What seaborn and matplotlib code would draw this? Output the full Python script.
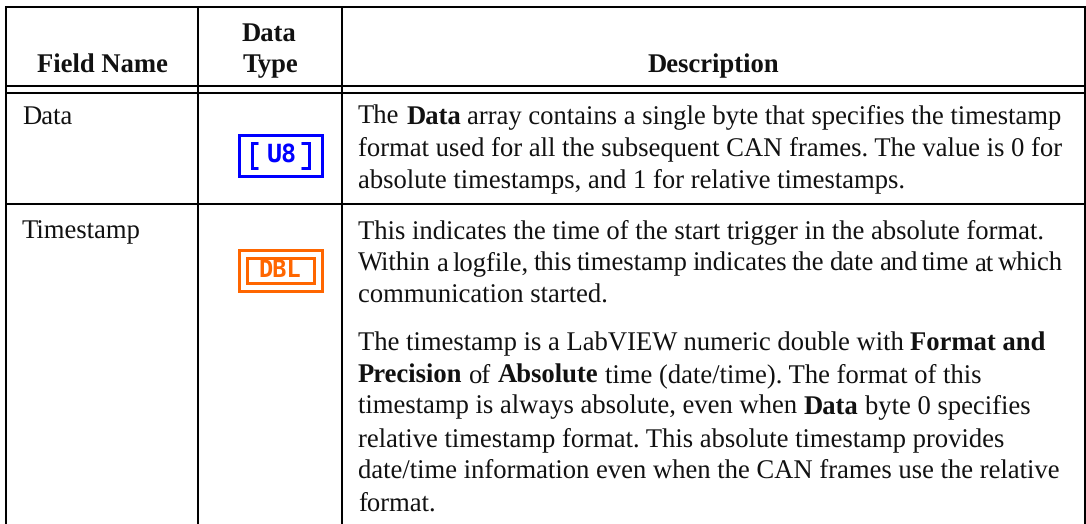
import matplotlib
matplotlib.use("Agg")
import matplotlib.pyplot as plt
from matplotlib.patches import Rectangle
import seaborn as sns

sns.set_theme(style="white")
plt.rcParams['font.family'] = ['Liberation Serif', 'DejaVu Serif']
plt.rcParams['text.hinting'] = 'no_hinting'
plt.rcParams['text.hinting_factor'] = 8

W, H = 1086, 524

header_cells = ["Field Name", "Data", "Type", "Description"]
field_names = ["Data", "Timestamp"]
desc_lines = [
    [("The ", 0), ("Data", 1), (" array contains a single byte that specifies the timestamp", 0)],
    [("format used for all the subsequent CAN frames. The value is 0 for", 0)],
    [("absolute timestamps, and 1 for relative timestamps.", 0)],
    [("This indicates the time of the start trigger in the absolute format.", 0)],
    [("Within a logfile, this timestamp indicates the date and time at which", 0)],
    [("communication started.", 0)],
    [("The timestamp is a LabVIEW numeric double with ", 0), ("Format and", 1)],
    [("Precision", 1), (" of ", 0), ("Absolute", 1), (" time (date/time). The format of this", 0)],
    [("timestamp is always absolute, even when ", 0), ("Data", 1), (" byte 0 specifies", 0)],
    [("relative timestamp format. This absolute timestamp provides", 0)],
    [("date/time information even when the CAN frames use the relative", 0)],
    [("format.", 0)],
]
desc_baselines = [123, 155, 187, 238, 270, 302, 350, 382, 413, 446, 478, 510]
# The original typesetter tightened the word spaces of one line.
desc_word_gaps = [0, 0, 0, 0, -1.75, 0, 0, 0, 0, 0, 0, 0]

fig = plt.figure(figsize=(W / 100, H / 100), dpi=100, facecolor="white")
ax = fig.add_axes([0, 0, 1, 1])
ax.set_xlim(0, W)
ax.set_ylim(H, 0)
ax.axis("off")

lw = 1.45
col_x = [6, 198, 342, 1085]
for y in [7, 86, 92.7, 204]:
    ax.plot([col_x[0] - 1, col_x[-1] + 1], [y, y], color="black", lw=lw, solid_capstyle="butt")
for x in col_x:
    ax.plot([x, x], [6, H], color="black", lw=lw, solid_capstyle="butt")

fs = 19.2
kw = dict(color="#111111", va="baseline", fontsize=fs)


def nudge(s):
    """Chunks without descenders sit about a pixel high after rounding."""
    return 0.0 if set(s) & set("gjpqy(),;/") else 0.7


ax.text(102, 72 + nudge(header_cells[0]), header_cells[0], ha="center", fontweight="bold", **kw)
ax.text(269, 40 + nudge(header_cells[1]), header_cells[1], ha="center", fontweight="bold", **kw)
ax.text(270, 72 + nudge(header_cells[2]), header_cells[2], ha="center", fontweight="bold", **kw)
ax.text(713.5, 72 + nudge(header_cells[3]), header_cells[3], ha="center", fontweight="bold", **kw)
ax.text(22, 123 + nudge(field_names[0]), field_names[0], ha="left", **kw)
ax.text(22, 238 + nudge(field_names[1]), field_names[1], ha="left", **kw)

fig.canvas.draw()
r = fig.canvas.get_renderer()


def advance(s, weight):
    """Pixel advance of s, counting leading and trailing spaces."""
    a = ax.text(0, 0, "|" + s + "|", fontweight=weight, fontsize=fs)
    b = ax.text(0, 0, "||", fontweight=weight, fontsize=fs)
    w = a.get_window_extent(r).width - b.get_window_extent(r).width
    a.remove()
    b.remove()
    return w


for parts, yb, gap in zip(desc_lines, desc_baselines, desc_word_gaps):
    x = 358
    for s, bold in parts:
        weight = "bold" if bold else "normal"
        if gap:
            for word in s.split(" "):
                ax.text(x, yb + nudge(word), word, ha="left", fontweight=weight, **kw)
                x += advance(word + " ", weight) + gap
            continue
        lead = len(s) - len(s.lstrip(" "))
        start = x + advance(" " * lead, weight) if lead else x
        body = s.strip(" ")
        ax.text(start, yb + nudge(body), body, ha="left", fontweight=weight, **kw)
        x += advance(s, weight)

# Icons
blue = "#0000ff"
orange = "#ff6600"
ilw = 2.16
ax.add_patch(Rectangle((238.5, 134.5), 83, 41, fill=False, ec=blue, lw=ilw, joinstyle="miter"))
for x0, x1 in [(258, 251.5), (301, 308.5)]:
    ax.plot([x0, x1, x1, x0], [142.5, 142.5, 167.5, 167.5], color=blue, lw=ilw, solid_joinstyle="miter", solid_capstyle="butt")
ax.text(282, 155, "U8", color=blue, fontsize=18, family="DejaVu Sans Mono", fontweight="bold", ha="center", va="center")
ax.add_patch(Rectangle((238.5, 249.5), 83, 41, fill=False, ec=orange, lw=ilw, joinstyle="miter"))
ax.add_patch(Rectangle((246.5, 257.5), 67, 25, fill=False, ec=orange, lw=ilw, joinstyle="miter"))
ax.text(279.5, 270, "DBL", color=orange, fontsize=17, family="DejaVu Sans Mono", fontweight="bold", ha="center", va="center")

fig.savefig("out.png", dpi=100, facecolor="white")
